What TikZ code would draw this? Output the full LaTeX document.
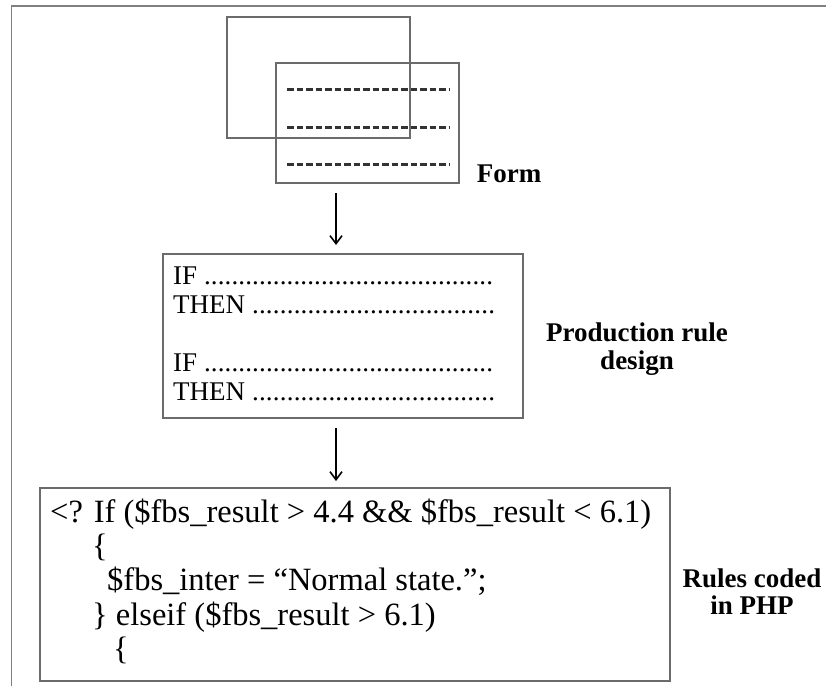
\documentclass[tikz,border=0pt]{standalone}
\usepackage{fontspec}
\setmainfont{Liberation Serif}
\usetikzlibrary{arrows.meta}
\begin{document}
\begin{tikzpicture}[x=1pt,y=-1pt,
  frame/.style={draw=black!50, line width=1.4pt},
  boxline/.style={draw=black!58, line width=1.5pt, inner sep=0pt, outer sep=0pt, anchor=north west},
  dashline/.style={draw=black!80, line width=3pt, dash pattern=on 6.5pt off 3pt},
  arr/.style={draw=black, line width=1.6pt, -{Straight Barb[length=8pt,width=12pt,line width=1.6pt]}},
  lbl/.style={font=\fontsize{27}{29}\selectfont\bfseries, align=center, inner sep=0pt, anchor=base},
  rtxt/.style={font=\fontsize{27}{29}\selectfont, anchor=base west, inner sep=0pt},
  ctxt/.style={font=\fontsize{32.5}{34}\selectfont, anchor=base west, inner sep=0pt}]
\useasboundingbox (0,0) rectangle (826,686);
% outer frame (cropped)
\coordinate (fb) at (11.5,686);
\coordinate (ftl) at (11.5,6);
\coordinate (fr) at (826,6);
\draw[frame] (fb) -- (ftl) -- (fr);
% form sketch
\node[boxline, minimum width=183pt, minimum height=121pt] (back) at (227,17) {};
\node[boxline, minimum width=183pt, minimum height=120pt] (form) at (276,63) {};
\draw[dashline] (287,89) -- (449,89);
\draw[dashline] (287,127) -- (449,127);
\draw[dashline] (287,164) -- (449,164);
\node[lbl] (formlbl) at (509,182) {Form};
% production rule box
\node[boxline, minimum width=360pt, minimum height=164pt] (rules) at (163,254) {};
\newcommand{\dotline}[2]{\makebox[#2][l]{#1 \xleaders\hbox to 6.8pt{\hss.\hss}\hfill}}
\node[rtxt] (if1) at (173,284) {\dotline{IF}{320pt}};
\node[rtxt] (then1) at (173,313) {\dotline{THEN}{322pt}};
\node[rtxt] (if2) at (173,371) {\dotline{IF}{320pt}};
\node[rtxt] (then2) at (173,400) {\dotline{THEN}{322pt}};
\node[lbl] (prodlbl1) at (637,341) {Production rule};
\node[lbl] (prodlbl2) at (637,369) {design};
% PHP box
\node[boxline, minimum width=630pt, minimum height=193pt] (php) at (40,488) {};
\node[ctxt] (c1) at (50,522) {<? If (\$fbs\_result > 4.4 \&\& \$fbs\_result < 6.1)};
\node[ctxt] (c2) at (92,556) {\{};
\node[ctxt] (c3) at (107,590) {\$fbs\_inter = “Normal state.”;};
\node[ctxt] (c4) at (92,625) {\} elseif (\$fbs\_result > 6.1)};
\node[ctxt] (c5) at (113,659) {\{};
\node[lbl] (phplbl1) at (752,587) {Rules coded};
\node[lbl] (phplbl2) at (752,614) {in PHP};
% arrows
\coordinate (a1) at (336,193);
\coordinate (a2) at (336,428);
\draw[arr] (a1) -- ([yshift=9pt]a1 |- rules.north);
\draw[arr] (a2) -- ([yshift=7pt]a2 |- php.north);
\end{tikzpicture}
\end{document}
